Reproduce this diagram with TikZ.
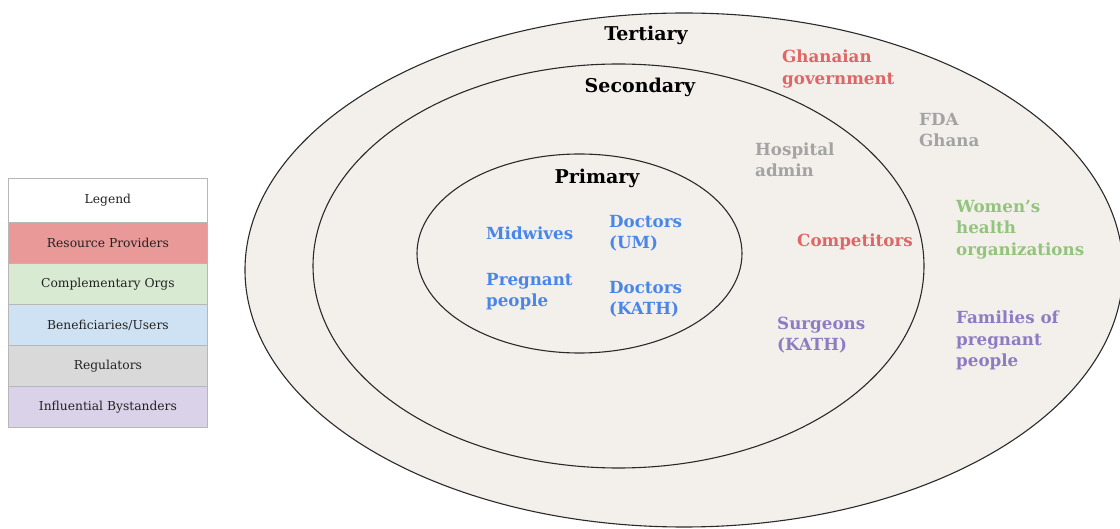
\documentclass[tikz,border=0pt]{standalone}
\usepackage{fontspec}
\setmainfont{DejaVu Serif}
\usetikzlibrary{shapes.geometric}
\definecolor{ringfill}{HTML}{F3F0EC}
\definecolor{ringline}{HTML}{2A2A2A}
\definecolor{cblue}{HTML}{4A86E8}
\definecolor{cred}{HTML}{E06666}
\definecolor{cgray}{HTML}{A3A3A3}
\definecolor{cgreen}{HTML}{93C47D}
\definecolor{cpurple}{HTML}{8E7CC3}
\definecolor{lred}{HTML}{EA9999}
\definecolor{lgreen}{HTML}{D9EAD3}
\definecolor{lblue}{HTML}{CFE2F3}
\definecolor{lgray}{HTML}{D9D9D9}
\definecolor{lpurple}{HTML}{D9D2E9}
\definecolor{lborder}{HTML}{B7B7B7}
\definecolor{ltext}{HTML}{222222}
\begin{document}
\begin{tikzpicture}[x=1pt,y=-1pt,
  ring/.style={ellipse, draw=ringline, line width=1.1pt, fill=ringfill, inner sep=0pt},
  ttl/.style={font=\fontsize{19}{23}\selectfont\bfseries, text=black, inner sep=0pt},
  lab/.style={font=\fontsize{16.7}{21.3}\selectfont\bfseries, align=left, anchor=west, inner sep=0pt},
  legrow/.style={draw=lborder, line width=0.8pt, minimum width=199pt, minimum height=41pt,
    inner sep=0pt, text=ltext, font=\fontsize{12.3}{15}\selectfont, anchor=north west},
]
\useasboundingbox (0,0) rectangle (1120,529);
% rings
\node[ring, minimum width=878pt, minimum height=514pt] (tert) at (684,270) {};
\node[ring, minimum width=611pt, minimum height=404pt] (sec) at (618.5,266) {};
\node[ring, minimum width=325pt, minimum height=199pt] (prim) at (579.5,253.5) {};
% titles
\node[ttl] (ttert) at (646,35.5) {Tertiary};
\node[ttl] (tsec) at (640,87.5) {Secondary};
\node[ttl] (tprim) at (597,178.5) {Primary};
% primary
\node[lab, text=cblue] (midw) at (486,233.5) {Midwives};
\node[lab, text=cblue] (docum) at (609,233) {Doctors\\(UM)};
\node[lab, text=cblue] (preg) at (486,292) {Pregnant\\people};
\node[lab, text=cblue] (dockath) at (609,299) {Doctors\\(KATH)};
% secondary
\node[lab, text=cgray] (hosp) at (755,160) {Hospital\\admin};
\node[lab, text=cred] (comp) at (797,241.5) {Competitors};
\node[lab, text=cpurple] (surg) at (777,335) {Surgeons\\(KATH)};
% tertiary
\node[lab, text=cred] (gov) at (782,69) {Ghanaian\\government};
\node[lab, text=cgray] (fda) at (919,130) {FDA\\Ghana};
\node[lab, text=cgreen] (women) at (956,229.5) {Women’s\\health\\organizations};
\node[lab, text=cpurple] (fam) at (956,340.5) {Families of\\pregnant\\people};
% legend
\node[legrow, fill=white, minimum height=44pt] (leg0) at (8,178) {Legend};
\node[legrow, fill=lred] (leg1) at (8,222) {Resource Providers};
\node[legrow, fill=lgreen] (leg2) at (8,263) {Complementary Orgs};
\node[legrow, fill=lblue] (leg3) at (8,304) {Beneficiaries/Users};
\node[legrow, fill=lgray] (leg4) at (8,345) {Regulators};
\node[legrow, fill=lpurple] (leg5) at (8,386) {Influential Bystanders};
\end{tikzpicture}
\end{document}
